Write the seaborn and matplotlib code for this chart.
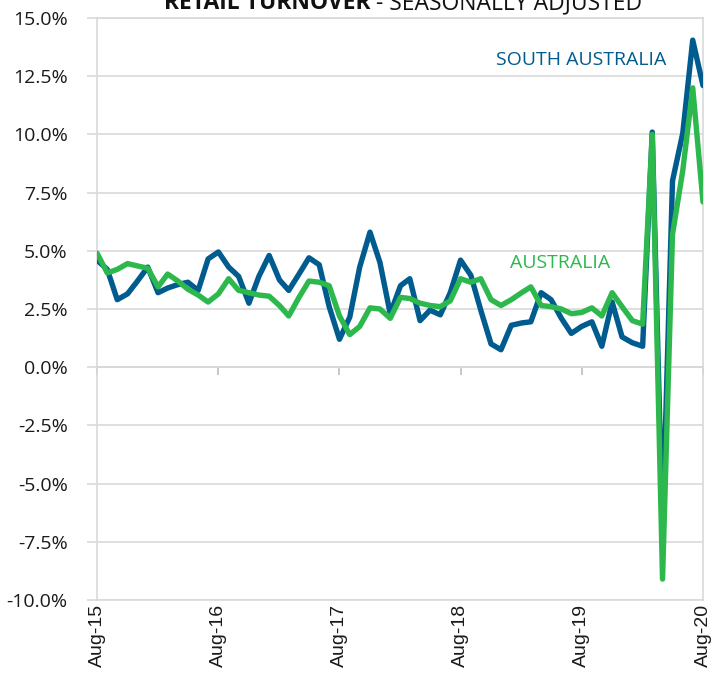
import matplotlib
matplotlib.use("Agg")
import matplotlib.pyplot as plt
import seaborn as sns
import pandas as pd

# ---- data ----
start_month = "2015-08-01"
n_months = 61
south_australia = [4.6, 4.2, 2.9, 3.15, 3.7, 4.3, 3.2, 3.4, 3.55, 3.65, 3.3, 4.65, 4.95,
                   4.3, 3.9, 2.75, 3.9, 4.8, 3.75, 3.3, 4.0, 4.7, 4.4, 2.6, 1.2, 2.15,
                   4.3, 5.8, 4.5, 2.3, 3.5, 3.8, 2.0, 2.45, 2.25, 3.2, 4.6, 3.95, 2.45,
                   1.0, 0.75, 1.8, 1.9, 1.95, 3.2, 2.9, 2.1, 1.45, 1.75, 1.95, 0.9, 2.8,
                   1.3, 1.05, 0.9, 10.1, -7.0, 8.0, 10.05, 14.05, 12.1]
australia = [4.9, 4.05, 4.2, 4.45, 4.35, 4.25, 3.45, 4.0, 3.7, 3.35, 3.1, 2.8, 3.15,
             3.8, 3.3, 3.2, 3.1, 3.05, 2.65, 2.2, 3.0, 3.7, 3.65, 3.5, 2.2, 1.4,
             1.75, 2.55, 2.5, 2.1, 3.0, 2.95, 2.75, 2.65, 2.6, 2.85, 3.8, 3.65, 3.8,
             2.9, 2.65, 2.9, 3.2, 3.45, 2.65, 2.6, 2.5, 2.3, 2.35, 2.55, 2.2, 3.2,
             2.6, 2.0, 1.85, 10.0, -9.1, 5.7, 8.45, 12.0, 7.1]
tick_years = [2015, 2016, 2017, 2018, 2019, 2020]
y_ticks = [15.0, 12.5, 10.0, 7.5, 5.0, 2.5, 0.0, -2.5, -5.0, -7.5, -10.0]
series_names = ["SOUTH AUSTRALIA", "AUSTRALIA"]

BLUE = "#005b8f"
GREEN = "#2db84d"
GRID = "#d9d9d9"

dates = pd.date_range(start_month, periods=n_months, freq="MS")
df = pd.DataFrame({"date": dates, "sa": south_australia, "aus": australia})

sns.set_theme(style="white")
plt.rcParams["font.family"] = ["Open Sans", "DejaVu Sans"]

fig = plt.figure(figsize=(7.13, 6.84), dpi=100)
ax = fig.add_axes([97/713, 1-600/684, (703-97)/713, (600-18)/684])

sns.lineplot(data=df, x="date", y="sa", ax=ax, color=BLUE, linewidth=3.9, zorder=3)
sns.lineplot(data=df, x="date", y="aus", ax=ax, color=GREEN, linewidth=3.9, zorder=4)

ax.set_ylim(-10, 15)
ax.set_xlim(dates[0], dates[-1])
ax.set_yticks(y_ticks)
ax.set_yticklabels([f"{v:.1f}%" for v in y_ticks], fontsize=14, color="#1a1a1a")
ax.yaxis.grid(True, color=GRID, linewidth=1.2)
ax.set_axisbelow(True)
ax.tick_params(axis="y", length=7, color=GRID, width=1.2, pad=14, left=True)

xt = [pd.Timestamp(y, 8, 1) for y in tick_years]
ax.set_xticks(xt)
ax.set_xticklabels([d.strftime("%b-%y") for d in xt], rotation=90,
                   fontsize=14, family=["Liberation Sans", "DejaVu Sans"], color="#1a1a1a")
ax.tick_params(axis="x", length=0, pad=3)
ax.set_xlabel("")
ax.set_ylabel("")

for s in ax.spines.values():
    s.set_color(GRID)
    s.set_linewidth(1.2)

# zero axis with tick marks
sec = ax.secondary_xaxis(0.4)
sec.set_xticks(xt)
sec.tick_params(axis="x", length=6, color="#bfbfbf", width=1.2, labelbottom=False)
sec.spines["bottom"].set_color("#cfcfcf")
sec.spines["bottom"].set_linewidth(1.2)

ax.annotate(series_names[0], xy=(581, 684-60), xycoords="figure pixels",
            ha="center", va="center", fontsize=14, color=BLUE)
ax.annotate(series_names[1], xy=(560, 684-263), xycoords="figure pixels",
            ha="center", va="center", fontsize=14, color=GREEN)

fig.text(370/713, 1-9/684, "RETAIL TURNOVER", ha="right", va="baseline",
         fontsize=16.5, fontweight="bold", color="#111111")
fig.text(370/713, 1-9/684, " - SEASONALLY ADJUSTED", ha="left", va="baseline",
         fontsize=16.5, color="#111111")

fig.savefig("out.png", dpi=100)
